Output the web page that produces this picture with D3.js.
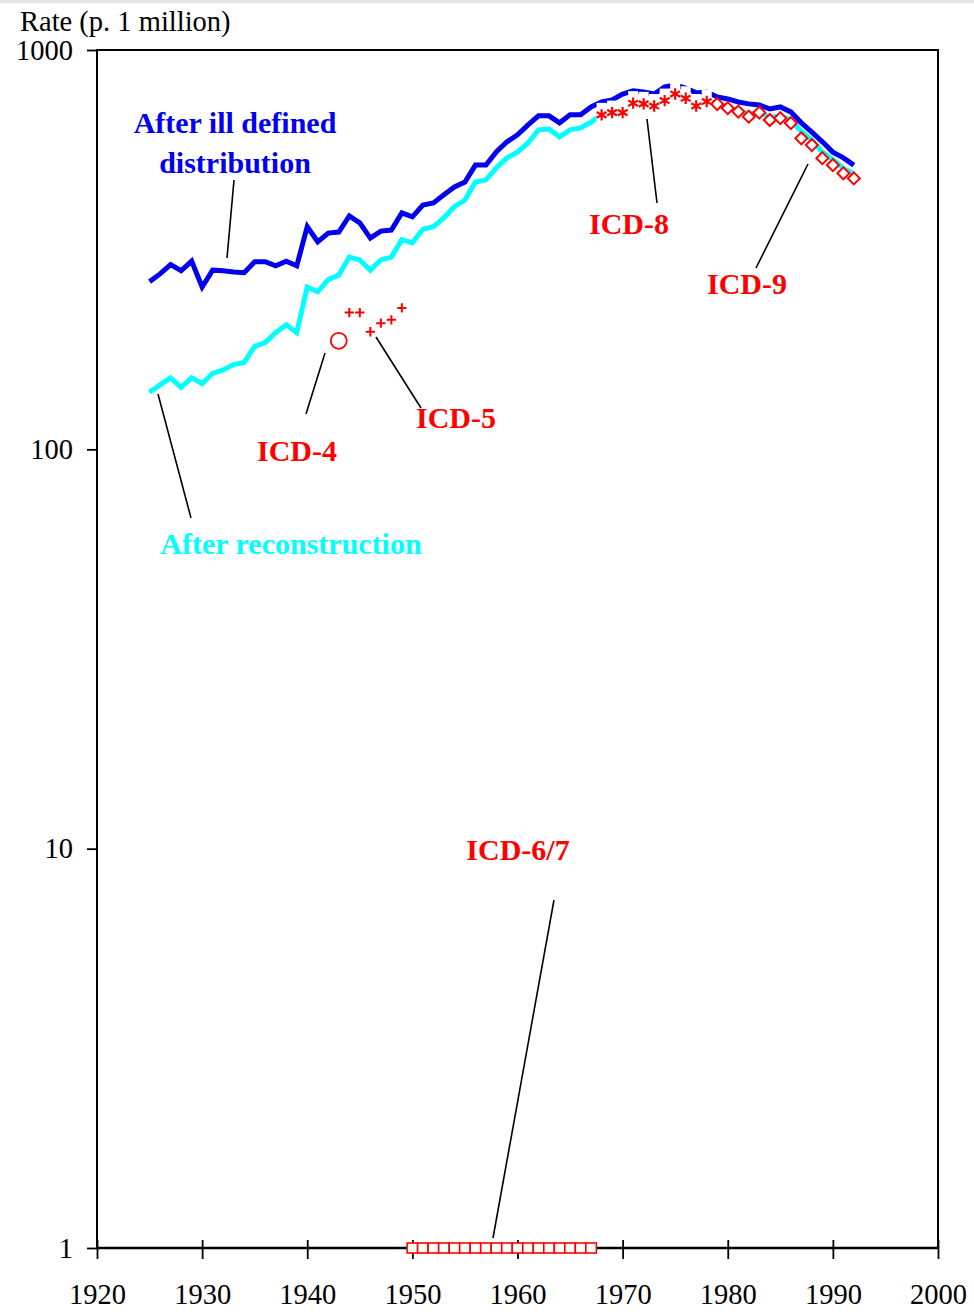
<!DOCTYPE html>
<html>
<head>
<meta charset="utf-8">
<title>Rate per million</title>
<style>
    body { margin: 0; background: #fff; }
    svg { display: block; font-family: 'Liberation Serif', 'Times New Roman', serif; }
    .tick text { font-size: 28.5px; fill: #000; font-family: 'Liberation Serif', 'Times New Roman', serif; }
    .tick line { stroke: #000; stroke-width: 1.8; }
    .lab { font-weight: bold; font-size: 30px; text-anchor: middle; }
    .lead { stroke: #000; stroke-width: 1.6; }
</style>
</head>
<body>
<svg width="974" height="1312"></svg>
<script src="https://d3js.org/d3.v7.min.js"></script>
<script>
// ----- data -----
let years = [1925,1926,1927,1928,1929,1930,1931,1932,1933,1934,1935,1936,1937,1938,1939,
    1940,1941,1942,1943,1944,1945,1946,1947,1948,1949,1950,1951,1952,1953,1954,1955,1956,
    1957,1958,1959,1960,1961,1962,1963,1964,1965,1966,1967,1968,1969,1970,1971,1972,1973,
    1974,1975,1976,1977,1978,1979,1980,1981,1982,1983,1984,1985,1986,1987,1988,1989,1990,
    1991,1992];

// after ill defined distribution (blue)
let illDefined = [263,275,290,280,296,255,281,280,278,277,295,295,288,296,288,
    361,331,348,350,384,369,338,352,354,391,382,409,414,434,454,467,515,
    515,556,589,613,649,684,684,657,688,688,720,741,750,776,790,785,776,
    808,817,803,781,785,763,754,741,733,728,712,720,700,657,623,589,555,
    537,515];

// after reconstruction (cyan)
let reconstructed = [139,145,151,143,151,146,155,158,163,165,181,185,196,205,196,
    255,248,266,273,303,298,281,298,303,335,329,356,361,380,405,421,467,
    473,507,537,555,585,631,634,606,631,638,660,688,697,697,736,733,724,
    747,776,757,724,743,735,720,706,690,700,678,684,668,625,595,555,532,
    505,490];

let icd4Years = [1943];
let icd4Values = [187];

let icd5Years = [1944,1945,1946,1947,1948,1949];
let icd5Values = [220,220,197,207,211,226];

let icd67Years = [1950,1951,1952,1953,1954,1955,1956,1957,1958,1959,1960,1961,1962,
    1963,1964,1965,1966,1967];
let icd67Values = [1,1,1,1,1,1,1,1,1,1,1,1,1,1,1,1,1,1];

let icd8Years = [1968,1969,1970,1971,1972,1973,1974,1975,1976,1977,1978];
let icd8Values = [688,697,697,736,733,724,747,776,757,724,743];

let icd9Years = [1979,1980,1981,1982,1983,1984,1985,1986,1987,1988,1989,1990,1991,1992];
let icd9Values = [732,715,701,681,697,668,675,656,601,578,536,515,491,477];

let xTicks = [1920,1930,1940,1950,1960,1970,1980,1990,2000];
let yTicks = [1,10,100,1000];

// ----- layout -----
let margin = { top: 50, right: 36, bottom: 64, left: 97 };
let width = 974, height = 1312;

let svg = d3.select("svg");

svg.append("rect").attr("x", 0).attr("y", 0).attr("width", width).attr("height", 3)
    .attr("fill", "#e6e6e6");

let x = d3.scaleLinear().domain([1920, 2000]).range([margin.left, width - margin.right]);
let y = d3.scaleLog().domain([1, 1000]).range([height - margin.bottom, margin.top]);

// y axis
svg.append("g")
    .attr("class", "y axis")
    .attr("transform", `translate(${margin.left},0)`)
    .call(d3.axisLeft(y).tickValues(yTicks).tickFormat(d3.format("d")).tickSize(10).tickPadding(14))
    .call(g => g.select(".domain").remove());

// x axis, ticks cross the line
svg.append("g")
    .attr("class", "x axis")
    .attr("transform", `translate(0,${y(1)})`)
    .call(d3.axisBottom(x).tickValues(xTicks).tickFormat(d3.format("d")).tickSize(11))
    .call(g => g.select(".domain").remove())
    .call(g => g.selectAll(".tick line").attr("y1", -8))
    .call(g => g.selectAll(".tick text").attr("y", 56).attr("dy", 0));

// frame
svg.append("rect")
    .attr("x", x(1920)).attr("y", y(1000))
    .attr("width", x(2000) - x(1920)).attr("height", y(1) - y(1000))
    .attr("fill", "none").attr("stroke", "#000").attr("stroke-width", 2);
svg.append("line")
    .attr("x1", x(1920)).attr("x2", x(2000)).attr("y1", y(1)).attr("y2", y(1))
    .attr("stroke", "#000").attr("stroke-width", 2.6);

svg.append("text").attr("x", 20).attr("y", 31).attr("font-size", 28.5).text("Rate (p. 1 million)");

// lines
let line = d3.line().x(d => x(d[0])).y(d => y(d[1]));

svg.append("path")
    .datum(years.map((yr, i) => [yr, reconstructed[i]]))
    .attr("fill", "none").attr("stroke", "#00ffff").attr("stroke-width", 5)
    .attr("d", line);

svg.append("path")
    .datum(years.map((yr, i) => [yr, illDefined[i]]))
    .attr("fill", "none").attr("stroke", "#0000ee").attr("stroke-width", 5)
    .attr("d", line);

// ICD-4 circle
svg.append("g").selectAll("circle")
    .data(icd4Years.map((yr, i) => [yr, icd4Values[i]]))
    .join("circle")
    .attr("cx", d => x(d[0])).attr("cy", d => y(d[1])).attr("r", 8)
    .attr("fill", "none").attr("stroke", "#ff0000").attr("stroke-width", 1.8);

// ICD-5 plus
svg.append("g").selectAll("path")
    .data(icd5Years.map((yr, i) => [yr, icd5Values[i]]))
    .join("path")
    .attr("transform", d => `translate(${x(d[0])},${y(d[1])})`)
    .attr("d", d3.symbol(d3.symbolPlus, 30))
    .attr("fill", "none").attr("stroke", "#ff0000").attr("stroke-width", 2);

// ICD-8 asterisks with white backing
let starG = svg.append("g").selectAll("g")
    .data(icd8Years.map((yr, i) => [yr, icd8Values[i]]))
    .join("g")
    .attr("transform", d => `translate(${x(d[0])},${y(d[1])})`);
starG.append("rect").attr("x", -5).attr("y", -12).attr("width", 10).attr("height", 20).attr("fill", "#fff");
starG.append("path")
    .attr("d", d3.symbol(d3.symbolAsterisk, 90))
    .attr("fill", "none").attr("stroke", "#ff0000").attr("stroke-width", 2.2);

// ICD-9 diamonds
svg.append("g").selectAll("path")
    .data(icd9Years.map((yr, i) => [yr, icd9Values[i]]))
    .join("path")
    .attr("transform", d => `translate(${x(d[0])},${y(d[1])}) rotate(45)`)
    .attr("d", d3.symbol(d3.symbolSquare, 72))
    .attr("fill", "#fff").attr("stroke", "#ff0000").attr("stroke-width", 2);

// ICD-6/7 squares on the bottom line
let sq = x(1951) - x(1950);
svg.append("g").selectAll("rect")
    .data(icd67Years.map((yr, i) => [yr, icd67Values[i]]))
    .join("rect")
    .attr("x", d => x(d[0]) - sq / 2).attr("y", d => y(d[1]) - 5)
    .attr("width", sq).attr("height", 10)
    .attr("fill", "#fff").attr("stroke", "#ff0000").attr("stroke-width", 1.6);

// labels and leaders
let leaders = [
    [234, 180, 227, 258],
    [158, 394, 191, 518],
    [325, 353, 306, 414],
    [376, 337, 421, 408],
    [647, 119, 657, 203],
    [808, 164, 756, 268],
    [554, 900, 493, 1238]
];
svg.append("g").selectAll("line").data(leaders).join("line")
    .attr("class", "lead")
    .attr("x1", d => d[0]).attr("y1", d => d[1]).attr("x2", d => d[2]).attr("y2", d => d[3]);

let labels = [
    ["After ill defined", 235, 133, "#0000ee"],
    ["distribution", 235, 173, "#0000ee"],
    ["After reconstruction", 291, 554, "#00ffff"],
    ["ICD-4", 297, 461, "#ff0000"],
    ["ICD-5", 456, 428, "#ff0000"],
    ["ICD-8", 629, 234, "#ff0000"],
    ["ICD-9", 747, 294, "#ff0000"],
    ["ICD-6/7", 518, 860, "#ff0000"]
];
svg.append("g").selectAll("text").data(labels).join("text")
    .attr("class", "lab")
    .attr("x", d => d[1]).attr("y", d => d[2])
    .attr("fill", d => d[3])
    .text(d => d[0]);
</script>
</body>
</html>
